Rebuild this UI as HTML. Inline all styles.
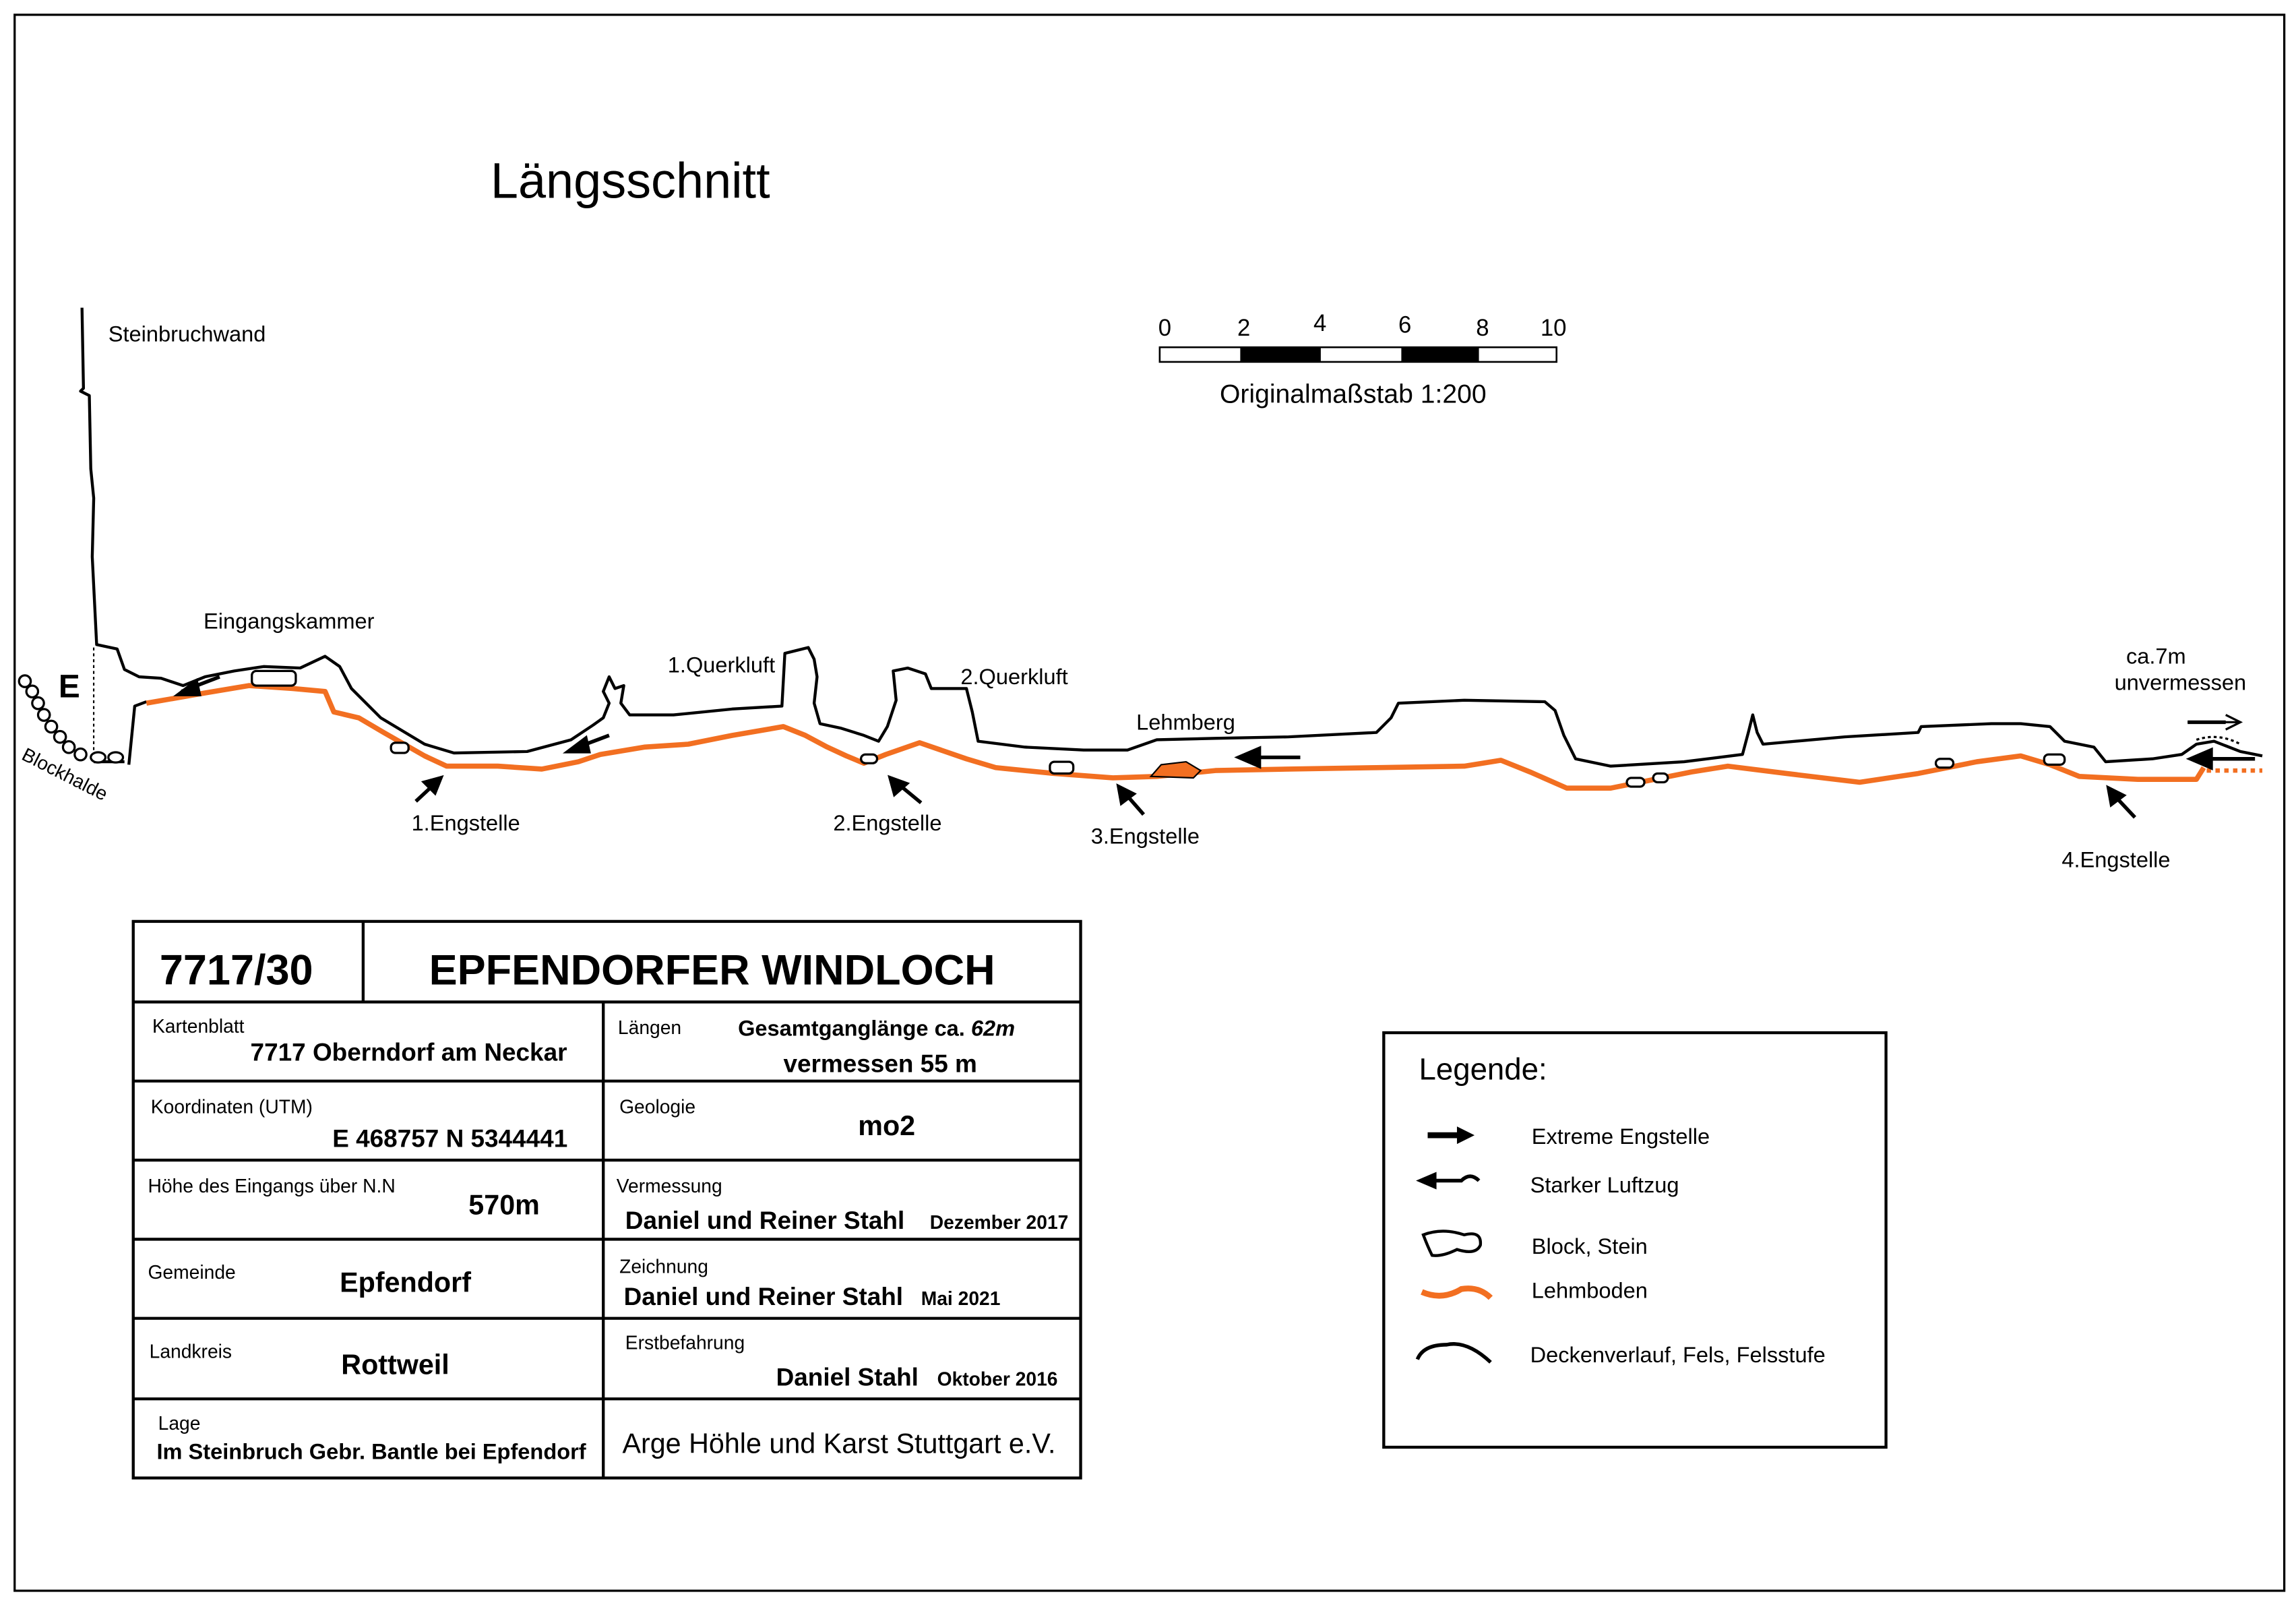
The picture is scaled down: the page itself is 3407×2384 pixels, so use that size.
<!DOCTYPE html>
<html><head><meta charset="utf-8"><style>
html,body{margin:0;padding:0;background:#fff}
svg{display:block}
text{font-family:"Liberation Sans",Arial,sans-serif;fill:#000}
</style></head><body>
<svg width="3407" height="2384" viewBox="0 0 1568 1097" xmlns="http://www.w3.org/2000/svg">
<rect x="0" y="0" width="1568" height="1097" fill="#fff"/>
<rect x="10" y="10" width="1550" height="1076" fill="none" stroke="#000" stroke-width="1.5"/>
<text x="335" y="135" font-size="34">Längsschnitt</text>

<!-- scale bar -->
<rect x="792" y="237" width="271" height="10" fill="#fff" stroke="#000" stroke-width="1.2"/>
<rect x="847" y="237" width="55" height="10" fill="#000"/>
<rect x="957" y="237" width="53" height="10" fill="#000"/>
<g font-size="16">
<text x="791" y="229">0</text><text x="845" y="229">2</text><text x="897" y="226">4</text>
<text x="955" y="227">6</text><text x="1008" y="229">8</text><text x="1052" y="229">10</text>
</g>
<text x="833" y="275" font-size="18">Originalmaßstab 1:200</text>

<!-- cave outline -->
<g fill="none" stroke="#000" stroke-width="2" stroke-linejoin="round">
<path d="M56,210 L57,265 L55,267 L61,270 L62,320 L64,340 L63,380 L66,440 L80,443 L85,457 L95,462 L110,463 L125,468 L140,462 L160,458 L180,455 L205,456 L222,448 L232,455 L240,470 L260,490 L290,508 L310,514 L360,513 L390,505 L405,495 L412,490 L416,480 L412,472 L416,462 L420,470 L426,468 L424,480 L430,488 L460,488 L500,484 L534,482 L536,446 L552,442 L556,450 L558,462 L556,480 L560,494 L574,497 L590,502 L600,506 L606,496 L612,478 L610,458 L620,456 L632,460 L636,470 L660,470 L664,486 L668,506 L700,510 L740,512 L770,512 L790,505 L830,504 L880,503 L940,500 L950,490 L955,480 L1000,478 L1055,479 L1062,485 L1068,502 L1076,518 L1100,523 L1150,520 L1190,515 L1194,500 L1197,488 L1200,500 L1204,508 L1260,503 L1310,500 L1312,496 L1360,494 L1380,494 L1400,496 L1410,506 L1430,510 L1438,520 L1470,518 L1490,515 L1500,508 L1512,506 L1530,513 L1545,516"/>
<path d="M88,522 L92,482 L100,479"/>
<path d="M64,520 L85,520"/>
</g>
<!-- orange floor -->
<path d="M100,480 L140,473 L170,468 L200,470 L222,472 L228,486 L245,490 L262,500 L290,516 L305,523 L340,523 L370,525 L395,520 L410,515 L440,510 L470,508 L500,502 L535,496 L550,502 L565,510 L578,516 L590,521 L605,515 L628,507 L660,518 L680,524 L720,528 L760,531 L790,530 L830,526 L880,525 L940,524 L1000,523 L1025,519 L1045,527 L1070,538 L1100,538 L1130,532 L1155,527 L1180,523 L1220,528 L1270,534 L1310,528 L1350,520 L1380,516 L1400,522 L1420,530 L1460,532 L1500,532 L1505,524" fill="none" stroke="#f26f21" stroke-width="3.5" stroke-linejoin="round"/>
<path d="M1507,526 L1545,526" fill="none" stroke="#f26f21" stroke-width="3" stroke-dasharray="3,3"/>
<path d="M786,530 L793,522 L810,520 L820,526 L815,531 Z" fill="#f26f21" stroke="#000" stroke-width="1"/>

<!-- blocks -->
<g fill="#fff" stroke="#000" stroke-width="1.5">
<rect x="172" y="458" width="30" height="10" rx="3"/>
<rect x="267" y="507" width="12" height="7" rx="3"/>
<rect x="588" y="515" width="11" height="6" rx="3"/>
<rect x="717" y="520" width="16" height="8" rx="3"/>
<rect x="1111" y="531" width="12" height="6" rx="3"/>
<rect x="1129" y="528" width="10" height="6" rx="3"/>
<rect x="1322" y="518" width="12" height="6" rx="3"/>
<rect x="1396" y="515" width="14" height="7" rx="3"/>
</g>
<!-- entrance blockhalde -->
<g fill="#fff" stroke="#000" stroke-width="1.5">
<circle cx="17" cy="465" r="4"/><circle cx="22" cy="472" r="4"/><circle cx="26" cy="480" r="4"/>
<circle cx="30" cy="488" r="4"/><circle cx="35" cy="496" r="4"/><circle cx="41" cy="503" r="4"/>
<circle cx="47" cy="510" r="4"/><circle cx="55" cy="515" r="4"/><ellipse cx="67" cy="517" rx="5" ry="3.5"/><ellipse cx="79" cy="517" rx="5" ry="3.5"/>
</g>
<line x1="64" y1="442" x2="64" y2="513" stroke="#000" stroke-width="1" stroke-dasharray="2,2"/>
<text x="40" y="476" font-size="22" font-weight="bold">E</text>
<text x="14" y="518" font-size="13" transform="rotate(27 14 518)">Blockhalde</text>

<!-- arrows -->
<g stroke="#000" stroke-width="2.5" fill="#000">
<path d="M124,472 L150,462" fill="none"/><path d="M122,474 L134,465 L136,474 Z"/>
<path d="M392,511 L416,502" fill="none"/><path d="M388,513 L400,504 L402,513 Z"/>
<path d="M850,517 L888,517" fill="none"/><path d="M846,517 L860,511 L860,523 Z"/>
<path d="M1500,518 L1540,518" fill="none"/><path d="M1496,518 L1510,512 L1510,524 Z"/>
<path d="M1494,493 L1520,493" fill="none"/>
<path d="M298,534 L284,547" fill="none"/><path d="M301,531 L290,534 L297,541 Z"/>
<path d="M612,534 L629,548" fill="none"/><path d="M608,531 L611,542 L619,535 Z"/>
<path d="M767,540 L781,556" fill="none"/><path d="M764,537 L766,548 L774,542 Z"/>
<path d="M1443,542 L1458,558" fill="none"/><path d="M1440,538 L1442,549 L1450,543 Z"/>
</g>
<path d="M1494,493 L1530,493 M1520,488 L1530,493 L1520,498" fill="none" stroke="#000" stroke-width="1.5"/>
<path d="M1500,505 Q1515,500 1530,508" fill="none" stroke="#000" stroke-width="1.5" stroke-dasharray="2,2"/>

<g font-size="15">
<text x="74" y="233">Steinbruchwand</text>
<text x="139" y="429">Eingangskammer</text>
<text x="456" y="459">1.Querkluft</text>
<text x="656" y="467">2.Querkluft</text>
<text x="776" y="498">Lehmberg</text>
<text x="1452" y="453">ca.7m</text>
<text x="1444" y="471">unvermessen</text>
<text x="281" y="567">1.Engstelle</text>
<text x="569" y="567">2.Engstelle</text>
<text x="745" y="576">3.Engstelle</text>
<text x="1408" y="592">4.Engstelle</text>
</g>

<!-- table -->
<g fill="none" stroke="#000" stroke-width="2">
<rect x="91" y="629" width="647" height="380"/>
<line x1="91" y1="684" x2="738" y2="684"/>
<line x1="248" y1="629" x2="248" y2="684"/>
<line x1="412" y1="684" x2="412" y2="1009"/>
<line x1="91" y1="738" x2="738" y2="738"/>
<line x1="91" y1="792" x2="738" y2="792"/>
<line x1="91" y1="846" x2="738" y2="846"/>
<line x1="91" y1="900" x2="738" y2="900"/>
<line x1="91" y1="955" x2="738" y2="955"/>
</g>
<text x="109" y="672" font-size="29" font-weight="bold">7717/30</text>
<text x="293" y="672" font-size="29" font-weight="bold">EPFENDORFER WINDLOCH</text>
<g font-size="13">
<text x="104" y="705">Kartenblatt</text>
<text x="103" y="760">Koordinaten (UTM)</text>
<text x="101" y="814">Höhe des Eingangs über  N.N</text>
<text x="101" y="873">Gemeinde</text>
<text x="102" y="927">Landkreis</text>
<text x="108" y="976">Lage</text>
<text x="422" y="706">Längen</text>
<text x="423" y="760">Geologie</text>
<text x="421" y="814">Vermessung</text>
<text x="423" y="869">Zeichnung</text>
<text x="427" y="921">Erstbefahrung</text>
</g>
<g font-weight="bold">
<text x="171" y="724" font-size="17">7717 Oberndorf am Neckar</text>
<text x="227" y="783" font-size="17">E 468757    N 5344441</text>
<text x="320" y="829" font-size="19">570m</text>
<text x="232" y="882" font-size="19">Epfendorf</text>
<text x="233" y="938" font-size="19">Rottweil</text>
<text x="107" y="996" font-size="15">Im Steinbruch Gebr. Bantle bei Epfendorf</text>
<text x="504" y="707" font-size="15">Gesamtganglänge ca. <tspan font-style="italic">62m</tspan></text>
<text x="535" y="732" font-size="17">vermessen 55 m</text>
<text x="586" y="775" font-size="19">mo2</text>
<text x="427" y="839" font-size="17">Daniel und Reiner Stahl</text>
<text x="635" y="839" font-size="13">Dezember 2017</text>
<text x="426" y="891" font-size="17">Daniel und Reiner Stahl</text>
<text x="629" y="891" font-size="13">Mai 2021</text>
<text x="530" y="946" font-size="17">Daniel Stahl</text>
<text x="640" y="946" font-size="13">Oktober 2016</text>
</g>
<text x="425" y="992" font-size="19">Arge Höhle und Karst Stuttgart e.V.</text>

<!-- legend -->
<rect x="945" y="705" width="343" height="283" fill="none" stroke="#000" stroke-width="2"/>
<text x="969" y="737" font-size="21">Legende:</text>
<g font-size="15">
<text x="1046" y="781">Extreme Engstelle</text>
<text x="1045" y="814">Starker Luftzug</text>
<text x="1046" y="856">Block, Stein</text>
<text x="1046" y="886">Lehmboden</text>
<text x="1045" y="930">Deckenverlauf, Fels, Felsstufe</text>
</g>
<path d="M975,775 L998,775" stroke="#000" stroke-width="4"/>
<path d="M1007,775 L995,769 L995,781 Z" fill="#000"/>
<path d="M972,806 L998,806 Q1004,800 1010,806" stroke="#000" stroke-width="2.5" fill="none"/>
<path d="M967,806 L981,800 L981,812 Z" fill="#000"/>
<path d="M972,843 Q985,838 1000,843 Q1012,840 1011,850 Q1008,857 995,853 Q985,858 978,857 Q975,851 972,843 Z" fill="#fff" stroke="#000" stroke-width="2"/>
<path d="M971,882 Q985,888 998,880 Q1010,878 1018,886" stroke="#f26f21" stroke-width="4" fill="none"/>
<path d="M968,928 Q972,918 988,918 Q1002,915 1018,930" stroke="#000" stroke-width="2.5" fill="none"/>
</svg>
</body></html>
